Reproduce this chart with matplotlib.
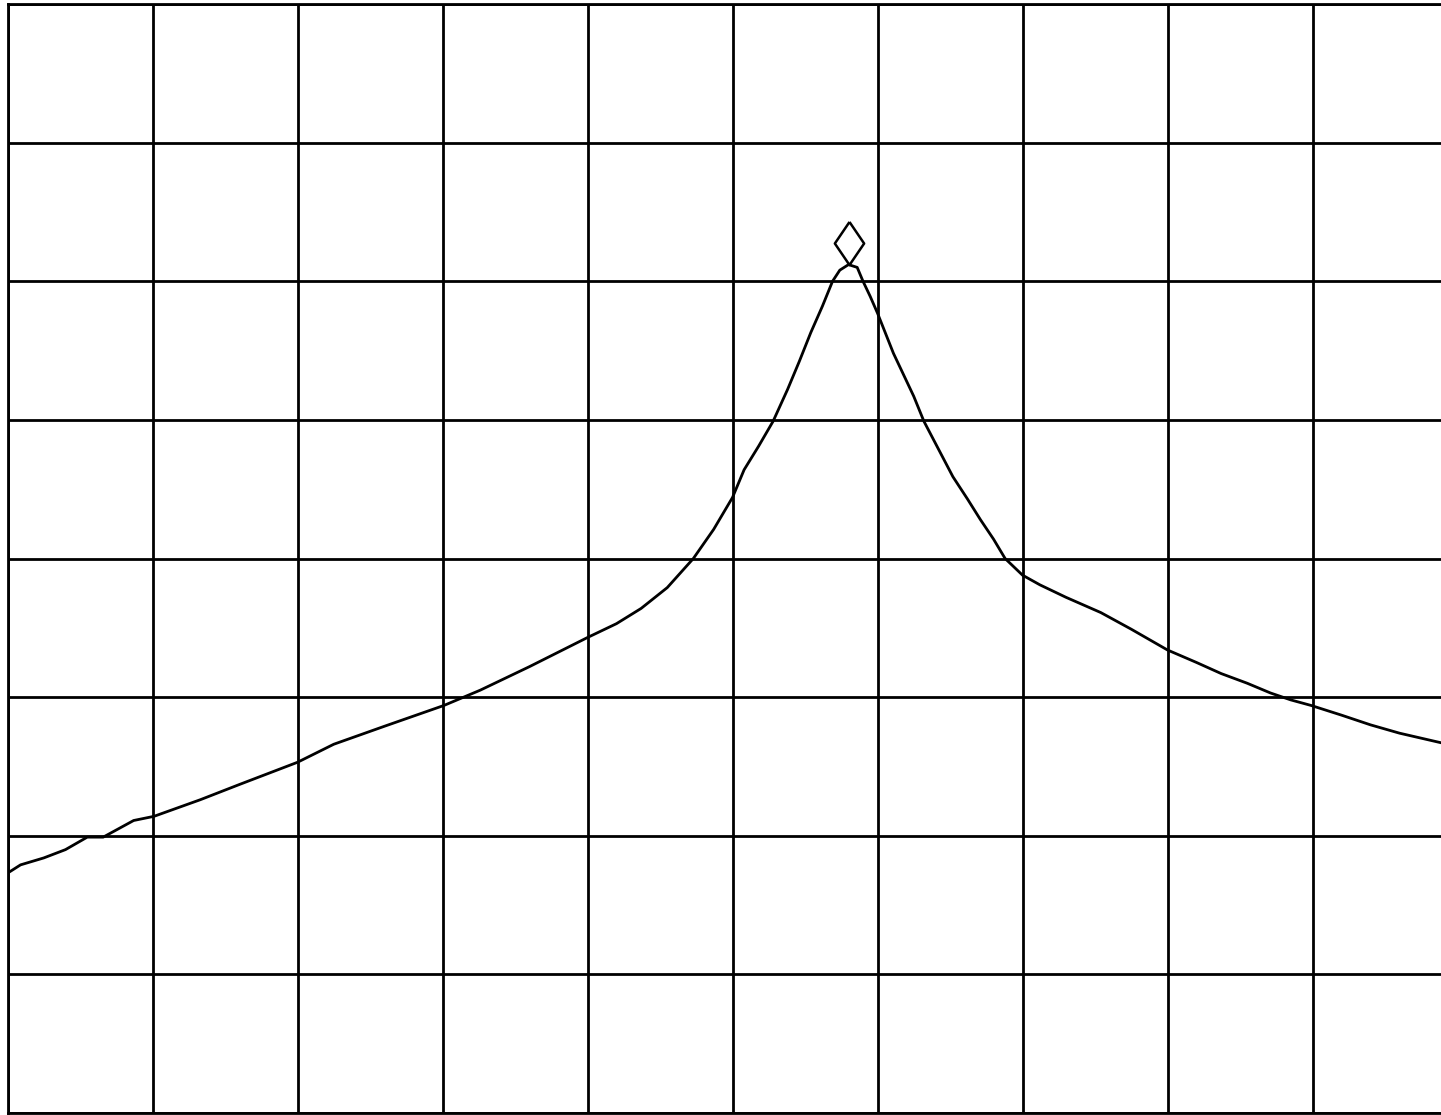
import numpy as np
import matplotlib.pyplot as plt
import matplotlib.transforms as mtransforms

# trace, in divisions (x: 0..10, y: 0..8 from bottom)
freq_div = [0.0, 0.09, 0.25, 0.4, 0.55, 0.66, 0.87, 1.01, 1.33, 1.6, 2.0, 2.25, 2.6,
            3.01, 3.26, 3.6, 4.0, 4.2, 4.37, 4.55, 4.73, 4.87, 5.0, 5.08, 5.18, 5.28,
            5.38, 5.46, 5.54, 5.62, 5.69, 5.74, 5.8, 5.86, 5.9, 5.95, 6.0, 6.11, 6.25,
            6.32, 6.42, 6.52, 6.62, 6.71, 6.8, 6.88, 6.95, 7.0, 7.12, 7.3, 7.54, 7.75,
            8.0, 8.2, 8.37, 8.55, 8.71, 8.85, 8.99, 9.2, 9.4, 9.6, 9.89]
level_div = [1.73, 1.79, 1.84, 1.90, 1.99, 1.99, 2.11, 2.14, 2.26, 2.37, 2.53, 2.66, 2.79,
             2.94, 3.05, 3.22, 3.43, 3.53, 3.64, 3.79, 4.0, 4.21, 4.44, 4.64, 4.81, 4.99,
             5.22, 5.42, 5.63, 5.82, 6.0, 6.08, 6.12, 6.10, 6.0, 5.89, 5.77, 5.48, 5.17,
             4.99, 4.79, 4.59, 4.43, 4.28, 4.14, 4.0, 3.93, 3.88, 3.81, 3.72, 3.61, 3.49,
             3.34, 3.25, 3.17, 3.10, 3.03, 2.98, 2.94, 2.87, 2.80, 2.74, 2.67]

fig = plt.figure(figsize=(14.41, 11.15), dpi=100)
ax = fig.add_axes([7.5 / 1441, 2 / 1115, 1450 / 1441, 1109 / 1115])
ax.set_xlim(0, 10)
ax.set_ylim(0, 8)

ax.set_xticks(np.arange(0, 11, 1))
ax.set_yticks(np.arange(0, 9, 1))
ax.tick_params(length=0, labelbottom=False, labelleft=False)
ax.grid(which='major', color='k', linewidth=2.0)
for s in ax.spines.values():
    s.set_linewidth(2.0)
    s.set_color('k')

ax.plot(freq_div, level_div, color='k', linewidth=2.0)

# marker diamond sitting on top of the peak
diamond = [(0, 1), (0.68, 0), (0, -1), (-0.68, 0), (0, 1)]
i = int(np.argmax(level_div))
off = mtransforms.ScaledTranslation(0, 22 / 100, fig.dpi_scale_trans)
ax.plot(freq_div[i], level_div[i], marker=diamond, markersize=31, markerfacecolor='white',
        markeredgecolor='k', markeredgewidth=1.8, transform=ax.transData + off, zorder=5)

fig.savefig('out.png', dpi=100)
